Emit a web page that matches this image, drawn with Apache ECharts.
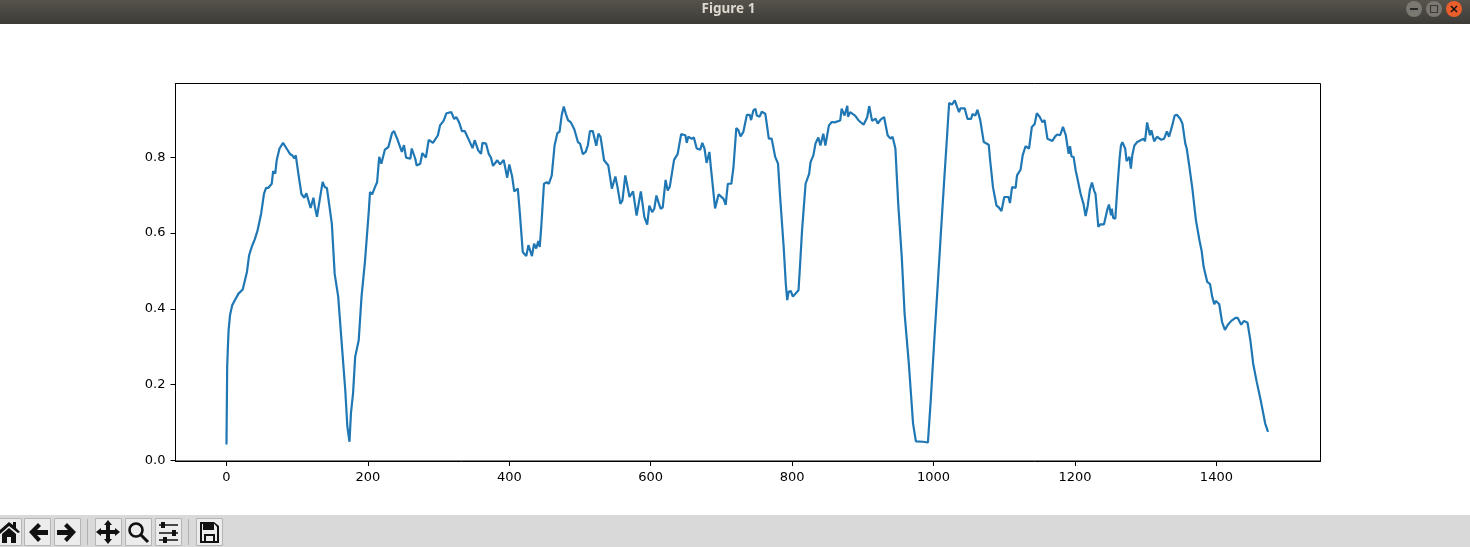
<!DOCTYPE html>
<html><head><meta charset="utf-8">
<script src="https://cdn.jsdelivr.net/npm/echarts@6/dist/echarts.min.js"></script>
<style>html,body{margin:0;padding:0;background:#fff}#c{width:1470px;height:547px}</style>
</head><body><div id="c"></div>
<script>
const windowTitle = 'Figure 1';
const xTicks = [0,200,400,600,800,1000,1200,1400];
const yTicks = [0,0.2,0.4,0.6,0.8];
const sampleIndex = [0,1,2,3,5,8,12,17,23,29,32,36,40,44,49,53,56,59,64,66,69,71,75,80,85,90,93,96,98,102,106,110,113,119,123,125,128,131,136,139,142,149,153,158,163,168,171,174,176,179,182,187,191,196,201,203,206,210,213,216,219,224,229,234,237,242,248,251,254,260,262,267,269,274,277,282,286,292,299,302,307,311,318,322,325,329,333,337,342,348,351,356,360,362,367,371,374,377,383,387,392,394,397,400,404,407,412,415,419,424,427,432,435,438,441,443,445,449,453,456,460,464,468,471,474,477,480,483,487,492,497,500,504,508,511,514,518,523,526,529,534,540,545,550,553,557,560,564,570,575,580,586,591,595,598,602,605,608,611,614,617,621,624,627,633,638,643,649,651,653,658,661,665,670,673,676,679,683,685,691,696,703,706,709,714,717,721,724,727,731,736,740,742,745,748,750,754,757,762,764,767,771,776,780,783,788,791,793,795,798,801,803,809,811,814,819,824,826,830,833,837,840,844,847,852,856,860,868,870,874,878,879,882,889,894,901,906,909,913,918,921,925,930,935,939,942,946,950,955,959,965,971,975,985,992,996,1001,1006,1010,1015,1019,1022,1026,1030,1033,1036,1038,1044,1048,1053,1055,1059,1062,1066,1071,1078,1080,1084,1089,1092,1096,1100,1106,1108,1111,1116,1118,1123,1126,1130,1135,1139,1143,1146,1150,1154,1157,1161,1168,1172,1175,1179,1183,1187,1191,1193,1195,1198,1201,1203,1208,1212,1215,1218,1221,1224,1227,1229,1233,1236,1241,1246,1248,1251,1252,1254,1257,1260,1263,1265,1267,1271,1273,1277,1279,1281,1284,1288,1297,1299,1302,1304,1306,1308,1312,1316,1322,1326,1330,1333,1337,1341,1344,1349,1352,1356,1358,1362,1366,1371,1376,1379,1382,1384,1387,1391,1394,1397,1399,1401,1404,1408,1412,1416,1421,1427,1430,1435,1439,1444,1448,1452,1457,1463,1469,1473];
const sampleValue = [.042,.247,.299,.343,.383,.409,.423,.44,.451,.498,.541,.565,.583,.607,.651,.703,.719,.719,.73,.763,.757,.792,.823,.838,.823,.808,.805,.797,.805,.752,.703,.693,.705,.666,.693,.669,.643,.678,.735,.721,.719,.625,.492,.432,.308,.185,.088,.049,.124,.177,.273,.317,.432,.528,.651,.708,.702,.721,.734,.801,.783,.82,.827,.863,.869,.846,.814,.832,.799,.796,.823,.796,.778,.783,.811,.799,.846,.838,.858,.884,.896,.916,.919,.901,.906,.892,.869,.869,.849,.824,.845,.818,.809,.838,.836,.808,.799,.777,.792,.781,.793,.791,.746,.781,.749,.71,.717,.65,.55,.539,.568,.539,.572,.559,.579,.563,.612,.73,.734,.73,.752,.831,.864,.867,.91,.934,.914,.898,.892,.873,.84,.836,.808,.814,.831,.869,.869,.83,.862,.854,.792,.778,.717,.749,.721,.677,.686,.752,.695,.71,.646,.71,.642,.622,.672,.655,.664,.699,.681,.664,.668,.74,.712,.723,.793,.808,.861,.858,.838,.854,.849,.852,.823,.82,.838,.823,.785,.814,.774,.665,.702,.69,.674,.73,.73,.774,.877,.871,.855,.867,.912,.912,.898,.923,.928,.91,.907,.92,.915,.889,.849,.849,.801,.783,.695,.563,.466,.423,.445,.447,.432,.427,.449,.51,.607,.73,.756,.787,.805,.836,.852,.831,.862,.831,.884,.893,.892,.897,.928,.91,.936,.907,.919,.91,.897,.886,.905,.935,.896,.902,.889,.899,.906,.858,.849,.854,.823,.677,.537,.388,.255,.097,.05,.049,.047,.159,.317,.467,.59,.739,.854,.943,.939,.95,.934,.919,.929,.929,.901,.901,.914,.91,.925,.898,.84,.833,.792,.721,.672,.668,.658,.695,.695,.679,.721,.719,.752,.767,.805,.829,.823,.88,.888,.916,.907,.892,.898,.849,.843,.855,.86,.858,.88,.858,.809,.829,.802,.801,.765,.748,.703,.677,.645,.672,.714,.733,.712,.703,.616,.623,.623,.664,.675,.647,.664,.64,.638,.721,.796,.831,.84,.823,.79,.801,.77,.805,.831,.84,.849,.842,.892,.892,.858,.871,.842,.854,.846,.849,.868,.854,.88,.91,.912,.901,.888,.836,.823,.772,.717,.634,.581,.554,.51,.507,.471,.465,.432,.412,.421,.416,.412,.365,.344,.357,.368,.376,.376,.358,.368,.363,.317,.255,.207,.155,.097,.075];

const pairs = sampleIndex.map((x,i)=>[x,sampleValue[i]]);
const ink = '#000';

function poly(points, fill){ return {type:'polygon', shape:{points}, style:{fill:fill||'#111'}, silent:true}; }
function btn(x,w){ return {type:'rect', shape:{x:x+.5,y:518.5,width:w,height:27}, style:{fill:'#ececec',stroke:'#b5b5b5',lineWidth:1}, silent:true}; }
function sep(x){ return {type:'line', shape:{x1:x+.5,y1:519,x2:x+.5,y2:545}, style:{stroke:'#b0b0b0',lineWidth:1}, silent:true}; }
function bar(x1,y1,x2,y2,w){ return {type:'line', shape:{x1,y1,x2,y2}, style:{stroke:'#111',lineWidth:w||2}, silent:true}; }

const chrome = [
  {type:'rect', shape:{x:0,y:0,width:1470,height:24}, silent:true,
   style:{fill:new echarts.graphic.LinearGradient(0,0,0,1,[{offset:0,color:'#55534b'},{offset:1,color:'#3d3b36'}])}},
  {type:'text', x:728.5, y:9, silent:true, style:{text:windowTitle, fill:'#dcd8cf', font:'bold 13.5px "Noto Sans"', align:'center', verticalAlign:'middle'}},
  {type:'circle', shape:{cx:1414,cy:9,r:8}, silent:true, style:{fill:'#7a7870'}},
  {type:'circle', shape:{cx:1434,cy:9,r:8}, silent:true, style:{fill:'#7a7870'}},
  {type:'circle', shape:{cx:1454,cy:9,r:8}, silent:true, style:{fill:'#e95e2b'}},
  bar(1410,9,1418,9,1.5),
  {type:'rect', shape:{x:1430.5,y:5.5,width:7,height:7}, silent:true, style:{fill:'none',stroke:'#3a3934',lineWidth:1.2}},
  bar(1451,6,1457,12,1.5), bar(1457,6,1451,12,1.5),
  {type:'rect', shape:{x:0,y:515,width:1470,height:32}, silent:true, style:{fill:'#d9d9d9'}},
  btn(-6,27),btn(24,26),btn(54,26),sep(87),btn(95,26),btn(125,26),btn(155,26),sep(188),btn(196,26),
  poly([[0,530],[9,522],[13,525],[13,522],[16,522],[16,528],[20,532],[18,533],[9,526],[0,534]]),
  poly([[2,534],[9,528],[16,534],[16,543],[11,543],[11,537],[7,537],[7,543],[2,543]]),
  poly([[29,532],[38,523],[41,526],[37,530],[48,530],[48,535],[37,535],[41,539],[38,542]]),
  poly([[76,532],[67,523],[64,526],[68,530],[57,530],[57,535],[68,535],[64,539],[67,542]]),
  poly([[108,520],[112,525],[110,525],[110,530],[115,530],[115,528],[120,532],[115,536],[115,534],[110,534],[110,539],[112,539],[108,544],[104,539],[106,539],[106,534],[101,534],[101,536],[96,532],[101,528],[101,530],[106,530],[106,525],[104,525]]),
  {type:'circle', shape:{cx:136,cy:530,r:6.5}, silent:true, style:{fill:'none',stroke:'#111',lineWidth:2.6}},
  bar(141,535,148,542,3),
  bar(159,525,178,525,1.5), bar(159,533,178,533,1.5), bar(159,540,178,540,1.5),
  bar(163,522,163,528,4), bar(174,530,174,536,4), bar(165,537,165,543,4),
  poly([[200,522],[214,522],[219,526],[219,543],[200,543]]),
  poly([[202,524],[203,524],[203,530],[214,530],[214,524],[214.5,524],[217,527],[217,541],[202,541]],'#ececec'),
  poly([[206,524],[211,524],[211,528],[206,528]]),
  poly([[204,534],[215,534],[215,541],[204,541]]),
  poly([[206,536],[213,536],[213,541],[206,541]],'#ececec')
];

const chart = echarts.init(document.getElementById('c'), null, {renderer:'canvas'});
chart.setOption({
  animation:false,
  backgroundColor:'#fff',
  grid:{left:175.5,right:149.5,top:83.5,height:377.5,show:true,borderColor:ink,borderWidth:1,backgroundColor:'#fff',containLabel:false},
  xAxis:{type:'value',min:-72.1,max:1547.2,splitLine:{show:false},
    axisLine:{show:true,onZero:false,lineStyle:{color:ink,width:1}},
    axisTick:{show:true,length:5,customValues:xTicks,lineStyle:{color:ink,width:1}},
    axisLabel:{show:true,customValues:xTicks,margin:10,color:ink,fontFamily:'DejaVu Sans',fontSize:13,formatter:v=>String(v)}},
  yAxis:{type:'value',min:-0.0018,max:0.9946,splitLine:{show:false},
    axisLine:{show:true,onZero:false,lineStyle:{color:ink,width:1}},
    axisTick:{show:true,length:5,customValues:yTicks,lineStyle:{color:ink,width:1}},
    axisLabel:{show:true,customValues:yTicks,margin:10,padding:[2,0,0,0],color:ink,fontFamily:'DejaVu Sans',fontSize:13,formatter:v=>v.toFixed(1)}},
  series:[{type:'line',data:pairs,showSymbol:false,smooth:false,clip:true,lineStyle:{color:'#1f77b4',width:2.2},itemStyle:{color:'#1f77b4'}}],
  graphic:{elements:chrome}
});
</script></body></html>
